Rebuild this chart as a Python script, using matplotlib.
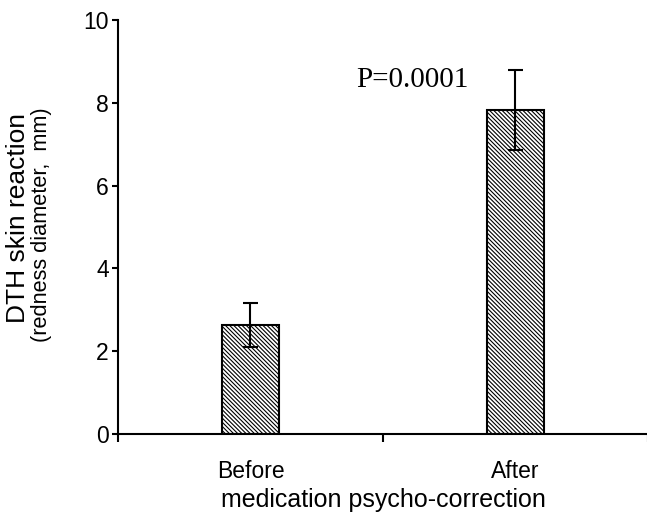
import matplotlib
matplotlib.use("Agg")
import matplotlib.pyplot as plt
import numpy as np

categories = ["Before", "After"]
values = [2.63, 7.82]
errors = [0.54, 0.97]
p_text = "P=0.0001"
yticks = [0, 2, 4, 6, 8, 10]

plt.rcParams['font.family'] = ['Liberation Sans', 'DejaVu Sans']
plt.rcParams['hatch.linewidth'] = 0.8

fig = plt.figure(figsize=(6.47, 5.13), dpi=100)
ax = fig.add_axes([118/647, (513-434)/513, (648-118)/647, (434-20)/513])

x = np.arange(len(categories))
ax.bar(x, values, width=0.215, color='white', edgecolor='black',
       linewidth=1.5, hatch='\\\\\\\\\\\\\\\\', zorder=2)
ax.errorbar(x, values, yerr=errors, fmt='none', ecolor='black',
            elinewidth=1.5, capsize=5.4, capthick=1.5, zorder=3)

ax.set_xlim(-0.5, 1.5)
ax.set_ylim(0, 10)
ax.set_yticks(yticks)
ax.set_yticklabels([str(t) for t in yticks], fontsize=16.5)
ax.tick_params(axis='y', direction='out', length=4.5, width=1.5, pad=2)

ax.set_xticks(x)
ax.set_xticklabels(categories, fontsize=16.5)
ax.tick_params(axis='x', which='major', length=0, pad=19)
ax.set_xticks([-0.5, 0.5, 1.5], minor=True)
ax.tick_params(axis='x', which='minor', direction='out', length=6, width=1.5)

for s in ['top', 'right']:
    ax.spines[s].set_visible(False)
for s in ['left', 'bottom']:
    ax.spines[s].set_linewidth(1.5)

ax.set_xlabel("medication psycho-correction", fontsize=18, labelpad=3)

fig.text(18/647, 1 - 218/513, "DTH skin reaction", rotation=90,
         ha='center', va='center', fontsize=19)
fig.text(42/647, 1 - 225/513, "(redness diameter,  mm)", rotation=90,
         ha='center', va='center', fontsize=15.7)

ax.text(0.61, 8.55, p_text, family=['Liberation Serif', 'DejaVu Serif'],
        fontsize=21, ha='center', va='center')

fig.savefig("out.png", dpi=100)
